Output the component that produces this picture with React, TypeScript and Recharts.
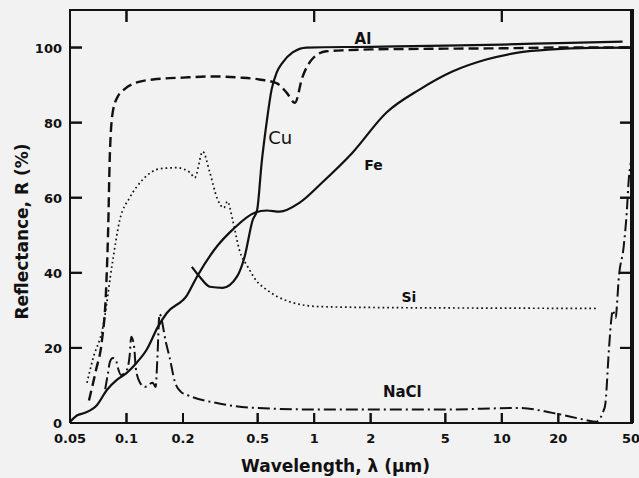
import { LineChart, Line, XAxis, YAxis, ReferenceLine } from "recharts";

const INK = "#111";
const FONT = "DejaVu Sans";

// wavelength in µm, reflectance in %
const alWavelength = [0.0631, 0.0687, 0.074, 0.0776, 0.0797, 0.0816, 0.0846, 0.09, 0.098, 0.1135, 0.138, 0.2, 0.29, 0.4, 0.51, 0.63, 0.713, 0.79, 0.864, 0.98, 1.16, 1.5, 2, 3, 5, 10, 20, 50];
const alReflectance = [6, 14, 22, 34, 50, 72, 83, 87, 89, 90.7, 91.5, 92, 92.3, 92, 91.5, 90.5, 88, 85.3, 92, 97, 99, 99.3, 99.5, 99.6, 99.7, 99.8, 100, 100];

const cuWavelength = [0.223, 0.246, 0.278, 0.326, 0.387, 0.426, 0.47, 0.497, 0.525, 0.558, 0.593, 0.631, 0.679, 0.768, 0.911, 2, 5, 10, 20, 44];
const cuReflectance = [41.6, 38.9, 36.3, 36, 38.9, 44.3, 54, 56.8, 69.3, 80, 88.8, 93.3, 96, 98.7, 100, 100.2, 100.5, 100.8, 101.2, 101.6];

const feWavelength = [0.05, 0.0544, 0.0601, 0.0697, 0.0786, 0.0888, 0.1, 0.113, 0.128, 0.147, 0.164, 0.21, 0.237, 0.303, 0.368, 0.482, 0.56, 0.654, 0.837, 1.1, 1.6, 2.43, 3.64, 5.45, 8.26, 12.4, 18.6, 30, 50];
const feReflectance = [0.3, 2, 2.7, 4.8, 8.8, 11.5, 13.3, 16, 19.5, 25.6, 29.3, 34, 38.9, 47, 51.5, 56, 56.6, 56.3, 58.7, 64, 72, 82.7, 88.8, 93.6, 96.8, 98.7, 99.5, 99.9, 100];

const siWavelength = [0.0616, 0.066, 0.0749, 0.0846, 0.092, 0.104, 0.122, 0.15, 0.185, 0.218, 0.231, 0.255, 0.278, 0.306, 0.33, 0.345, 0.368, 0.4, 0.443, 0.49, 0.558, 0.74, 1.07, 3, 10, 32.6];
const siReflectance = [10.7, 16.8, 25.6, 43.5, 54, 60, 64.8, 67.7, 68, 66.7, 65.3, 72.3, 66.7, 59.5, 57.3, 59, 54, 46, 41.6, 38, 35.5, 32.3, 31, 30.7, 30.6, 30.5];

const naclWavelength = [0.077, 0.0795, 0.0816, 0.0846, 0.0878, 0.09, 0.0935, 0.1, 0.104, 0.106, 0.11, 0.112, 0.118, 0.125, 0.138, 0.143, 0.146, 0.15, 0.162, 0.17, 0.181, 0.195, 0.21, 0.303, 0.49, 1, 5, 12.4, 18.6, 28, 31.6, 35.4, 37.3, 38.3, 39, 40.5, 41, 41.9, 44.6, 46.3, 47.5, 49];
const naclReflectance = [9, 13, 16.3, 17.3, 16.8, 14.7, 12.8, 14, 18, 23, 20, 14.7, 10.7, 9.6, 10.7, 9.6, 17, 29, 21.6, 17.3, 11, 8.3, 7.5, 5.3, 4, 3.6, 3.6, 4, 2.7, 0.8, 0.3, 4.3, 20.3, 27.5, 30, 28, 31, 38, 47, 56, 65, 70];

// curve names and where they are written
const tagNames = ["Al", "Cu", "Fe", "Si", "NaCl"];
const tagWavelength = [1.82, 0.66, 2.07, 3.2, 2.95];
const tagReflectance = [102.4, 76, 68.8, 33.6, 8.3];

const xTicks = [0.05, 0.1, 0.2, 0.5, 1, 2, 5, 10, 20, 50];
const topTicks = [0.1, 1, 10];
const yTicks = [0, 20, 40, 60, 80, 100];
const sideTicks = [20, 40, 60, 80, 100];

const X_MIN = 0.05;
const X_MAX = 50;
const Y_MAX = 110;

const WIDTH = 639;
const HEIGHT = 478;
const MARGIN = { top: 10, right: 6, bottom: 25, left: 10 };
const X_AXIS_H = 30;
const Y_AXIS_W = 60;
const PLOT_W = WIDTH - MARGIN.left - Y_AXIS_W - MARGIN.right;
const PLOT_H = HEIGHT - MARGIN.top - MARGIN.bottom - X_AXIS_H;

// inward tick lengths, expressed in axis units
const pxToY = (px: number) => (px * Y_MAX) / PLOT_H;
const pxToDecades = (px: number) => (px * Math.log10(X_MAX / X_MIN)) / PLOT_W;

const toPoints = (w: number[], r: number[]) => w.map((wl, i) => ({ wl, r: r[i] }));

const alData = toPoints(alWavelength, alReflectance);
const cuData = toPoints(cuWavelength, cuReflectance);
const feData = toPoints(feWavelength, feReflectance);
const siData = toPoints(siWavelength, siReflectance);
const naclData = toPoints(naclWavelength, naclReflectance);
const tagData = tagNames.map((name, i) => ({ name, wl: tagWavelength[i], r: tagReflectance[i] }));

const tagSize: Record<string, number> = { Al: 15, Cu: 18, Fe: 14, Si: 14, NaCl: 15 };

// bottom ticks also carry the matching top ticks, the top/right frame edges and the x title
const BottomTick = ({ x, y, payload }: any) => {
  const v = payload.value;
  const top = y - PLOT_H;
  return (
    <g>
      <path d={`M${x},${y}V${y - 10}`} stroke={INK} strokeWidth={2} fill="none" />
      {topTicks.includes(v) && <path d={`M${x},${top}V${top + 12}`} stroke={INK} strokeWidth={2} fill="none" />}
      {v === X_MAX && <path d={`M${x},${y}V${top}`} stroke={INK} strokeWidth={2} fill="none" />}
      {v === X_MIN && <path d={`M${x - 1},${top}H${x + PLOT_W + 1}`} stroke={INK} strokeWidth={2} fill="none" />}
      <text x={x} y={y + 20} textAnchor="middle" fontFamily={FONT} fontSize={13} fontWeight="bold" fill={INK}>
        {v}
      </text>
      {v === X_MIN && (
        <text x={x + PLOT_W / 2 - 16} y={y + 49} textAnchor="middle" fontFamily={FONT} fontSize={17} fontWeight="bold" fill={INK}>
          Wavelength, λ (μm)
        </text>
      )}
    </g>
  );
};

// left ticks also carry the right-hand ticks and the y title
const LeftTick = ({ x, y, payload }: any) => {
  const v = payload.value;
  const tx = x - 42;
  const ty = y - PLOT_H / 2 + 15;
  return (
    <g>
      {v > 0 && <path d={`M${x},${y}H${x + 12}`} stroke={INK} strokeWidth={2} fill="none" />}
      {v > 0 && <path d={`M${x + PLOT_W - 13},${y}H${x + PLOT_W}`} stroke={INK} strokeWidth={2} fill="none" />}
      <text x={x - 8} y={y + 5} textAnchor="end" fontFamily={FONT} fontSize={13} fontWeight="bold" fill={INK}>
        {v}
      </text>
      {v === 0 && (
        <text
          x={tx}
          y={ty}
          textAnchor="middle"
          fontFamily={FONT}
          fontSize={17}
          fontWeight="bold"
          fill={INK}
          transform={`rotate(-90, ${tx}, ${ty})`}
        >
          Reflectance, R (%)
        </text>
      )}
    </g>
  );
};

const NameDot = ({ cx, cy, payload }: any) => (
  <text
    key={payload.name}
    x={cx}
    y={cy}
    dy="0.35em"
    textAnchor="middle"
    fontFamily={FONT}
    fontSize={tagSize[payload.name]}
    fontWeight={payload.name === "Cu" ? "normal" : "bold"}
    fill={INK}
  >
    {payload.name}
  </text>
);

const edge = { stroke: INK, strokeWidth: 2, ifOverflow: "visible" as const };

export default function App() {
  return (
    <div style={{ position: "absolute", left: 0, top: 0, width: WIDTH, height: HEIGHT, background: "#f2f2f2" }}>
      <LineChart width={WIDTH} height={HEIGHT} margin={MARGIN}>
        <XAxis
          dataKey="wl"
          type="number"
          scale="log"
          domain={[X_MIN, X_MAX]}
          allowDataOverflow
          ticks={xTicks}
          height={X_AXIS_H}
          tickSize={0}
          tickMargin={0}
          tickLine={false}
          tick={BottomTick}
          axisLine={{ stroke: INK, strokeWidth: 2 }}
        />
        <YAxis
          type="number"
          domain={[0, Y_MAX]}
          allowDataOverflow
          ticks={yTicks}
          width={Y_AXIS_W}
          tickSize={0}
          tickMargin={0}
          tickLine={false}
          tick={LeftTick}
          axisLine={{ stroke: INK, strokeWidth: 2 }}
        />

        {/* frame edges and inward ticks, same spots as the tick renderers */}
        <ReferenceLine y={Y_MAX} {...edge} />
        <ReferenceLine x={X_MAX} {...edge} />
        {xTicks.map((t) => (
          <ReferenceLine key={`b${t}`} segment={[{ x: t, y: 0 }, { x: t, y: pxToY(10) }]} {...edge} />
        ))}
        {topTicks.map((t) => (
          <ReferenceLine key={`t${t}`} segment={[{ x: t, y: Y_MAX }, { x: t, y: Y_MAX - pxToY(12) }]} {...edge} />
        ))}
        {sideTicks.map((t) => (
          <ReferenceLine key={`l${t}`} segment={[{ x: X_MIN, y: t }, { x: X_MIN * 10 ** pxToDecades(12), y: t }]} {...edge} />
        ))}
        {sideTicks.map((t) => (
          <ReferenceLine key={`r${t}`} segment={[{ x: X_MAX / 10 ** pxToDecades(13), y: t }, { x: X_MAX, y: t }]} {...edge} />
        ))}

        <Line data={alData} dataKey="r" type="monotone" dot={false} stroke={INK} strokeWidth={2.4} strokeDasharray="10 5" isAnimationActive={false} />
        <Line data={cuData} dataKey="r" type="monotone" dot={false} stroke={INK} strokeWidth={2.2} isAnimationActive={false} />
        <Line data={feData} dataKey="r" type="monotone" dot={false} stroke={INK} strokeWidth={2.2} isAnimationActive={false} />
        <Line data={siData} dataKey="r" type="monotone" dot={false} stroke={INK} strokeWidth={1.7} strokeDasharray="1.7 3" isAnimationActive={false} />
        <Line data={naclData} dataKey="r" type="monotone" dot={false} stroke={INK} strokeWidth={2} strokeDasharray="12 4 2 4" isAnimationActive={false} />

        <Line data={tagData} dataKey="r" stroke="none" dot={NameDot} activeDot={false} isAnimationActive={false} />
      </LineChart>
    </div>
  );
}
